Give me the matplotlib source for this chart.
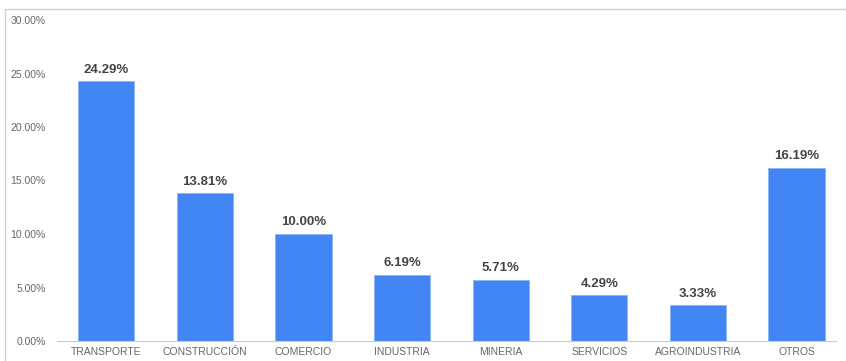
import matplotlib.pyplot as plt
from matplotlib.lines import Line2D
from matplotlib.ticker import FuncFormatter

sectores = ["TRANSPORTE", "CONSTRUCCIÓN", "COMERCIO", "INDUSTRIA",
            "MINERIA", "SERVICIOS", "AGROINDUSTRIA", "OTROS"]
porcentajes = [24.29, 13.81, 10.00, 6.19, 5.71, 4.29, 3.33, 16.19]

plt.rcParams["font.family"] = ["Liberation Sans", "DejaVu Sans"]

fig = plt.figure(figsize=(8.46, 3.61), dpi=100)
ax = fig.add_axes([57 / 846, 20 / 361, (836 - 57) / 846, 321 / 361])

x = range(len(sectores))
ax.bar(x, porcentajes, width=0.57, color="#4285f4", edgecolor="#8ab4f8", linewidth=0.6)

for xi, v in zip(x, porcentajes):
    ax.annotate(f"{v:.2f}%", (xi, v), xytext=(0, 4), textcoords="offset points",
                ha="center", va="bottom", fontsize=9.5, fontweight="bold", color="#444444")

ax.set_xlim(-0.5, 7.4)
ax.set_ylim(0, 30)
ax.set_yticks(range(0, 31, 5))
ax.yaxis.set_major_formatter(FuncFormatter(lambda v, _: f"{v:.2f}%"))
ax.set_xticks(list(x))
ax.set_xticklabels(sectores)
ax.tick_params(axis="both", length=0, labelsize=7.5, labelcolor="#666666")
ax.tick_params(axis="y", pad=8)
ax.tick_params(axis="x", pad=4)

for s in ["top", "right", "left"]:
    ax.spines[s].set_visible(False)
ax.spines["bottom"].set_color("#cccccc")

# thin outer frame along the top and left edges
fig.add_artist(Line2D([5 / 846, 1], [1 - 9 / 361, 1 - 9 / 361], color="#d0d0d0", lw=1))
fig.add_artist(Line2D([5 / 846, 5 / 846], [0, 1 - 9 / 361], color="#d0d0d0", lw=1))

fig.savefig("out.png", dpi=100)
